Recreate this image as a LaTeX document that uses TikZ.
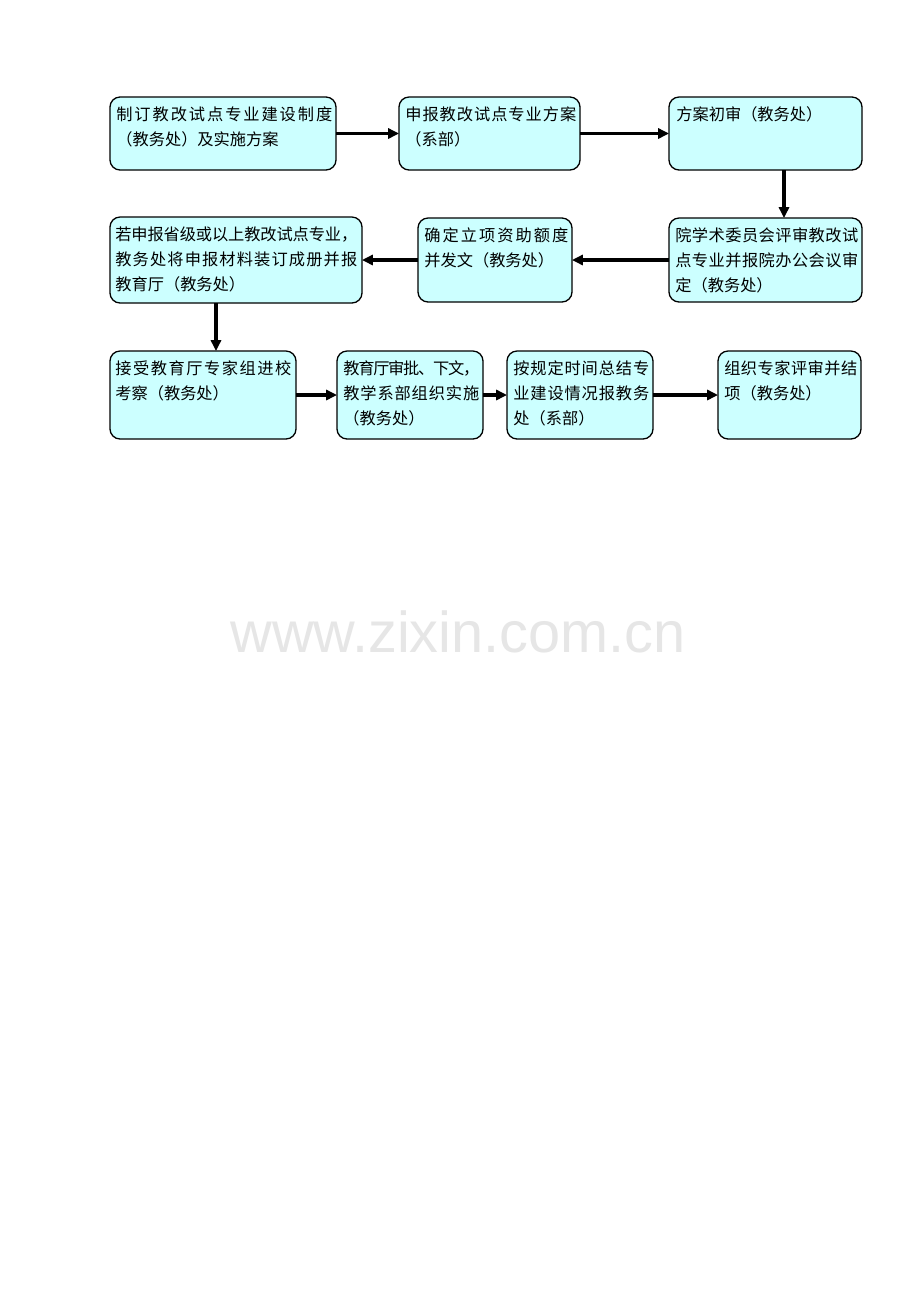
\documentclass[tikz,border=0pt]{standalone}
\usepackage{fontspec}
\setmainfont{Liberation Serif}
\newfontfamily\cjk{Noto Sans CJK SC}
\newfontfamily\wmfont{Liberation Sans}
\usetikzlibrary{arrows.meta,fit}
\definecolor{boxcyan}{HTML}{CCFFFF}
\definecolor{wmgray}{HTML}{E6E6E6}
\newdimen\pxu \pxu=0.6467pt
\def\jlfirst#1{#1\jlrest}
\def\jlrest#1{\ifx#1\relax\else\hskip 0pt plus 1fil minus 1pt #1\expandafter\jlrest\fi}
\newcommand\jl[2]{\hbox to #1\pxu{\jlfirst#2\relax}}
\newcommand\txtlines[1]{\vtop{\baselineskip=25\pxu\lineskiplimit=-100pt\lineskip=0pt #1}}
\begin{document}
\begin{tikzpicture}[x=0.6467pt,y=-0.6467pt,
  box/.style={draw=black,line width=0.85pt,fill=boxcyan,rounded corners=6.5pt,inner sep=0pt,outer sep=0pt},
  txt/.style={inner sep=0pt,anchor=base west,font=\cjk\fontsize{10.5pt}{15.8pt}\selectfont},
  arr/.style={line width=2pt,-{Triangle[length=7pt,width=6.5pt]}}]
\fill[white] (0,0) rectangle (920,1302);
\useasboundingbox (0,0) rectangle (920,1302);
% boxes
\node[box,fit={(110,97) (336,170)}] (A) {};
\node[box,fit={(399,97) (580,170)}] (B) {};
\node[box,fit={(669,97) (862,170)}] (C) {};
\node[box,fit={(110,217) (362,303)}] (D) {};
\node[box,fit={(418,218) (572,302)}] (E) {};
\node[box,fit={(669,218) (862,302)}] (F) {};
\node[box,fit={(110,351) (296,439)}] (G) {};
\node[box,fit={(337,351) (483,439)}] (H) {};
\node[box,fit={(507,351) (653,439)}] (I) {};
\node[box,fit={(718,351) (861,439)}] (J) {};
% texts
\node[txt] (tA) at ([shift={(6,23.5)}]A.north west) {\txtlines{\jl{216}{制订教改试点专业建设制度}\hbox{（教务处）及实施方案}}};
\node[txt] (tB) at ([shift={(6,23.5)}]B.north west) {\txtlines{\jl{171}{申报教改试点专业方案}\hbox{（系部）}}};
\node[txt] (tC) at ([shift={(7,23.5)}]C.north west) {\txtlines{\hbox{方案初审（教务处）}}};
\node[txt] (tD) at ([shift={(5,23)}]D.north west) {\txtlines{\jl{242}{若申报省级或以上教改试点专业，}\jl{242}{教务处将申报材料装订成册并报}\hbox{教育厅（教务处）}}};
\node[txt] (tE) at ([shift={(6,23.5)}]E.north west) {\txtlines{\jl{144}{确定立项资助额度}\hbox{并发文（教务处）}}};
\node[txt] (tF) at ([shift={(6,23.5)}]F.north west) {\txtlines{\jl{183}{院学术委员会评审教改试}\jl{183}{点专业并报院办公会议审}\hbox{定（教务处）}}};
\node[txt] (tG) at ([shift={(5,23.5)}]G.north west) {\txtlines{\jl{176}{接受教育厅专家组进校}\hbox{考察（教务处）}}};
\node[txt] (tH) at ([shift={(6,23.5)}]H.north west) {\txtlines{\jl{136}{教育厅审批、下文，}\jl{136}{教学系部组织实施}\hbox{（教务处）}}};
\node[txt] (tI) at ([shift={(6,23.5)}]I.north west) {\txtlines{\jl{136}{按规定时间总结专}\jl{136}{业建设情况报教务}\hbox{处（系部）}}};
\node[txt] (tJ) at ([shift={(6,23.5)}]J.north west) {\txtlines{\jl{133}{组织专家评审并结}\hbox{项（教务处）}}};
% arrows
\draw[arr] (A.east) -- (B.west);
\draw[arr] (B.east) -- (C.west);
\draw[arr] ([shift={(18.5,0)}]C.south) -- ([shift={(18.5,0)}]F.north);
\draw[arr] (F.west) -- (E.east);
\draw[arr] (E.west) -- (D.east |- E.west);
\draw[arr] ([shift={(-20,0)}]D.south) -- ([shift={(13,0)}]G.north);
\draw[arr] (G.east) -- (H.west);
\draw[arr] (H.east) -- (I.west);
\draw[arr] (I.east) -- (J.west);
% watermark
\node[inner sep=0pt,anchor=base,text=wmgray,font=\wmfont\fontsize{37.3pt}{40pt}\selectfont] (wm) at (458,652) {www.zixin.com.cn};
\end{tikzpicture}
\end{document}
